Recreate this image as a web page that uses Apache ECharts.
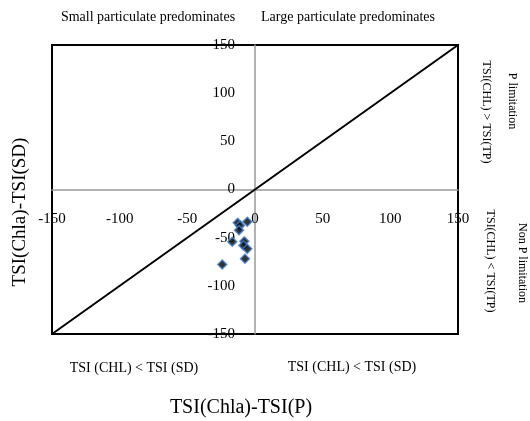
<!DOCTYPE html>
<html><head><meta charset="utf-8">
<script src="https://cdn.jsdelivr.net/npm/echarts@6/dist/echarts.min.js"></script>
<style>html,body{margin:0;padding:0;background:#fff}#c{width:530px;height:421px}</style>
</head><body><div id="c"></div>
<script>
const xValues = [-12.8, -11.1, -5.7, -11.8, -16.8, -7.9, -8.6, -5.7, -7.4, -24.2];
const yValues = [-34.6, -37.4, -33.5, -42.2, -54.3, -53.7, -58.1, -61.6, -71.9, -77.9];
const diagonal = [[-150, -150], [150, 150]];
const axisMin = -150, axisMax = 150, axisStep = 50;
const xAxisTitle = 'TSI(Chla)-TSI(P)';
const yAxisTitle = 'TSI(Chla)-TSI(SD)';
const topLabels = ['Small particulate predominates', 'Large particulate predominates'];
const bottomLabels = ['TSI (CHL) < TSI (SD)', 'TSI (CHL) < TSI (SD)'];
const rightInner = ['TSI(CHL) > TSI(TP)', 'TSI(CHL) < TSI(TP)'];
const rightOuter = ['P limitation', 'Non P limitation'];

const FONT = 'Liberation Serif';
const points = xValues.map((x, i) => [x, yValues[i]]);
const txt = (text, x, y, size, rot) => ({
  type: 'text', x: x, y: y, rotation: rot || 0,
  style: { text: text, font: size + 'px "' + FONT + '"', fill: '#000', textAlign: 'center', textVerticalAlign: 'middle' }
});

const G = { left: 52, top: 45, width: 406, height: 289 };
const chart = echarts.init(document.getElementById('c'));
chart.setOption({
  animation: false,
  backgroundColor: '#fff',
  grid: { left: G.left, top: G.top, width: G.width, height: G.height, show: true, borderColor: '#000', borderWidth: 2, backgroundColor: 'transparent' },
  xAxis: {
    type: 'value', min: axisMin, max: axisMax, interval: axisStep,
    position: 'bottom', offset: -G.height / 2,
    axisLine: { onZero: false, lineStyle: { color: '#999', width: 1.5 } },
    axisTick: { show: false }, splitLine: { show: false },
    axisLabel: { margin: 22, color: '#000', fontFamily: FONT, fontSize: 15 }
  },
  yAxis: {
    type: 'value', min: axisMin, max: axisMax, interval: axisStep,
    position: 'left', offset: -G.width / 2,
    axisLine: { onZero: false, lineStyle: { color: '#999', width: 1.5 } },
    axisTick: { show: false }, splitLine: { show: false },
    axisLabel: { margin: 20, color: '#000', fontFamily: FONT, fontSize: 15 }
  },
  series: [
    { type: 'line', data: diagonal, symbol: 'none', lineStyle: { color: '#000', width: 2 }, z: 3 },
    { type: 'scatter', data: points, symbol: 'diamond', symbolSize: 9,
      itemStyle: { color: '#000', borderColor: '#3f7fd0', borderWidth: 1.5 }, z: 4 }
  ],
  graphic: [
    txt(topLabels[0], 148, 17, 14),
    txt(topLabels[1], 348, 17, 14),
    txt(bottomLabels[0], 134, 368, 14),
    txt(bottomLabels[1], 352, 367, 14),
    txt(xAxisTitle, 241, 408, 20),
    txt(yAxisTitle, 20, 212, 19, Math.PI / 2),
    txt(rightInner[0], 486, 112, 12, -Math.PI / 2),
    txt(rightInner[1], 490, 261, 12, -Math.PI / 2),
    txt(rightOuter[0], 512, 101, 12, -Math.PI / 2),
    txt(rightOuter[1], 522, 263, 12, -Math.PI / 2)
  ]
});
</script></body></html>
